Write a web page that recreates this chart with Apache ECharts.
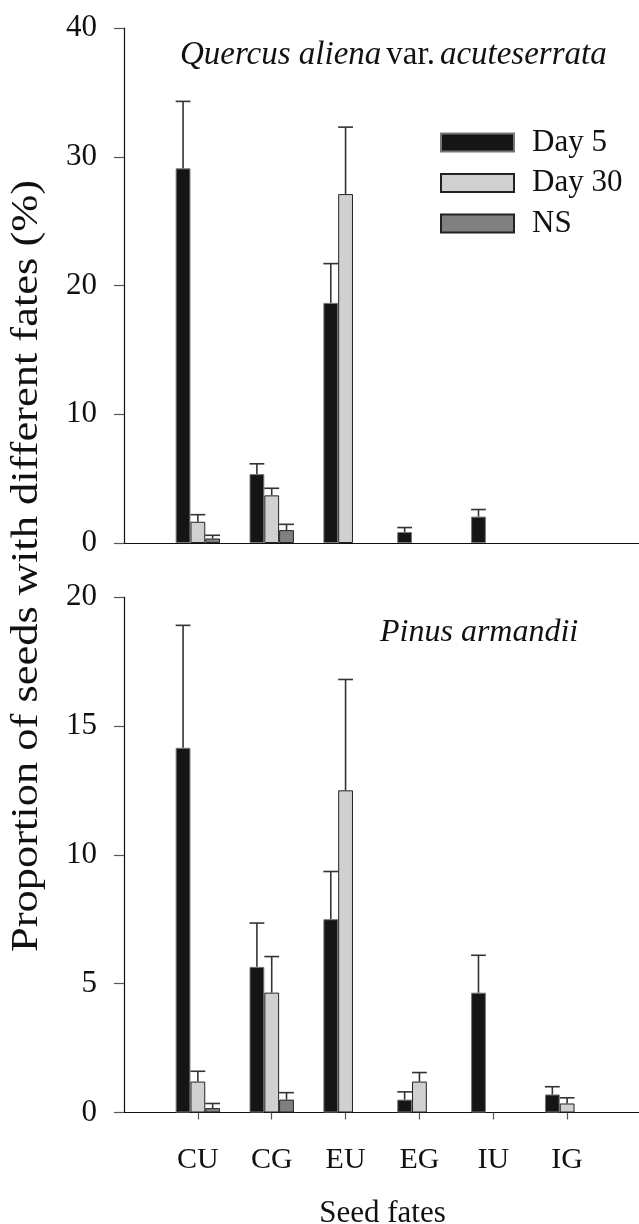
<!DOCTYPE html>
<html>
<head>
<meta charset="utf-8">
<script src="https://cdn.jsdelivr.net/npm/echarts@6/dist/echarts.min.js"></script>
<style>html,body{margin:0;padding:0;background:#fff;}#c{width:639px;height:1224px;}</style>
</head>
<body>
<div id="c"></div>
<script>
// ---- data ----
var categories = ['CU', 'CG', 'EU', 'EG', 'IU', 'IG'];
var seriesNames = ['Day 5', 'Day 30', 'NS'];

// Quercus aliena var. acuteserrata (top panel)
var quercusDay5  = [29.1, 5.35, 18.65, 0.85, 2.05, 0];
var quercusDay30 = [1.65, 3.7, 27.1, 0, 0, 0];
var quercusNS    = [0.35, 1.0, 0, 0, 0, 0];
var quercusDay5SE  = [5.2, 0.8, 3.05, 0.35, 0.55, null];
var quercusDay30SE = [0.55, 0.55, 5.2, null, null, null];
var quercusNSSE    = [0.25, 0.45, null, null, null, null];

// Pinus armandii (bottom panel)
var pinusDay5  = [14.15, 5.65, 7.5, 0.5, 4.65, 0.7];
var pinusDay30 = [1.2, 4.65, 12.5, 1.2, 0, 0.35];
var pinusNS    = [0.17, 0.5, 0, 0, 0, 0];
var pinusDay5SE  = [4.75, 1.7, 1.85, 0.3, 1.45, 0.3];
var pinusDay30SE = [0.4, 1.4, 4.3, 0.35, null, 0.22];
var pinusNSSE    = [0.18, 0.27, null, null, null, null];

var topTicks = [0, 10, 20, 30, 40];
var bottomTicks = [0, 5, 10, 15, 20];

// ---- build ----
var FONT = 'Liberation Serif';
var BAR_W = 14.8;
var colors = ['#151515', '#d0d0d0', '#808080'];
var borders = ['#777777', '#222222', '#222222'];
var padCats = [' '].concat(categories).concat(['  ']);
function pad(arr) {
  return [null].concat(arr.map(function (v) { return v > 0 ? v : null; })).concat([null]);
}

function errData(vals, se) {
  var out = [];
  for (var i = 0; i < vals.length; i++) {
    if (se[i] != null && vals[i] > 0) out.push([i + 1, vals[i], se[i]]);
  }
  return out;
}

function errRender(k) {
  return function (params, api) {
    var x = api.value(0), y = api.value(1), e = api.value(2);
    var p0 = api.coord([x, y]);
    var p1 = api.coord([x, y + e]);
    var cx = p0[0] + (k - 1) * BAR_W;
    var half = BAR_W / 2;
    var st = { stroke: '#333333', lineWidth: 1.6 };
    return {
      type: 'group',
      children: [
        { type: 'line', shape: { x1: cx, y1: p0[1], x2: cx, y2: p1[1] }, style: st },
        { type: 'line', shape: { x1: cx - half, y1: p1[1], x2: cx + half, y2: p1[1] }, style: st }
      ]
    };
  };
}

var panels = [
  { vals: [quercusDay5, quercusDay30, quercusNS], se: [quercusDay5SE, quercusDay30SE, quercusNSSE], ticks: topTicks, showX: false },
  { vals: [pinusDay5, pinusDay30, pinusNS], se: [pinusDay5SE, pinusDay30SE, pinusNSSE], ticks: bottomTicks, showX: true }
];

var grids = [
  { left: 124, width: 517, top: 28, height: 515, containLabel: false, outerBoundsMode: 'none' },
  { left: 124, width: 517, top: 597, height: 515.5, containLabel: false, outerBoundsMode: 'none' }
];

var xAxes = [], yAxes = [], series = [];
panels.forEach(function (p, gi) {
  xAxes.push({
    type: 'category', gridIndex: gi, data: padCats, boundaryGap: false,
    axisLine: { lineStyle: { color: '#111', width: 1.2 } },
    axisTick: { show: p.showX, length: 7, inside: false, lineStyle: { color: '#555', width: 1.2 },
      interval: function (idx, val) { return val.trim() !== ''; } },
    axisLabel: { show: p.showX, interval: 0, margin: 33, color: '#111', fontFamily: FONT, fontSize: 30 },
    splitLine: { show: false },
    name: p.showX ? 'Seed fates' : '', nameLocation: 'middle', nameGap: 86,
    nameTextStyle: { color: '#111', fontFamily: FONT, fontSize: 31 }
  });
  var t = p.ticks;
  yAxes.push({
    type: 'value', gridIndex: gi, min: t[0], max: t[t.length - 1], interval: t[1] - t[0],
    axisLine: { show: true, lineStyle: { color: '#111', width: 1.2 } },
    axisTick: { show: true, length: 10, lineStyle: { color: '#555', width: 1.2 } },
    axisLabel: { margin: 27, color: '#111', fontFamily: FONT, fontSize: 31 },
    splitLine: { show: false }
  });
  for (var k = 0; k < 3; k++) {
    series.push({
      type: 'bar', name: seriesNames[k], xAxisIndex: gi, yAxisIndex: gi,
      data: pad(p.vals[k]), barWidth: BAR_W, barGap: '0%',
      itemStyle: { color: colors[k], borderColor: borders[k], borderWidth: 1 },
      z: 2, animation: false
    });
  }
  for (var k2 = 0; k2 < 3; k2++) {
    series.push({
      type: 'custom', xAxisIndex: gi, yAxisIndex: gi,
      data: errData(p.vals[k2], p.se[k2]), renderItem: errRender(k2),
      encode: { x: 0, y: 1 }, z: 3, animation: false, silent: true
    });
  }
});

var chart = echarts.init(document.getElementById('c'), null, { renderer: 'canvas' });
chart.setOption({
  backgroundColor: '#fff',
  animation: false,
  grid: grids,
  xAxis: xAxes,
  yAxis: yAxes,
  series: series,
  legend: {
    data: seriesNames, orient: 'vertical', left: 440, top: 127, padding: 0,
    itemWidth: 73, itemHeight: 18, itemGap: 9.5, icon: 'rect',
    textStyle: { color: '#111', fontFamily: FONT, fontSize: 31, padding: [0, 0, 0, 13] }
  },
  title: [
    { text: '{i|Quercus aliena} {n|var.} {i|acuteserrata}', left: 180, top: 39, padding: 0,
      textStyle: { fontWeight: 'normal', rich: {
        i: { fontFamily: FONT, fontSize: 33, fontStyle: 'italic', fontWeight: 'normal', color: '#111' },
        n: { fontFamily: FONT, fontSize: 33, fontStyle: 'normal', fontWeight: 'normal', color: '#111' } } } },
    { text: 'Pinus armandii', left: 380, top: 617, padding: 0,
      textStyle: { fontFamily: FONT, fontSize: 32, fontStyle: 'italic', fontWeight: 'normal', color: '#111' } }
  ],
  graphic: [
    { type: 'text', x: 27, y: 566, rotation: Math.PI / 2, scaleX: 1.17,
      style: { text: 'Proportion of seeds with different fates (%)', font: '38px "Liberation Serif"',
        fill: '#111', textAlign: 'center', textVerticalAlign: 'middle' } }
  ]
});
</script>
</body>
</html>
